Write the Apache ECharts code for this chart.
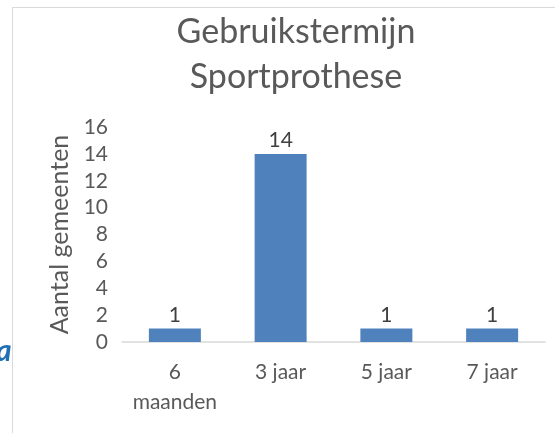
<!DOCTYPE html>
<html lang="nl">
  <head>
    <meta charset="UTF-8" />
    <title>Gebruikstermijn Sportprothese</title>
    <style>
      body {
        margin: 0;
        background: #fff;
      }
      #chart {
        width: 555px;
        height: 433px;
      }
    </style>
    <script src="https://cdn.jsdelivr.net/npm/echarts@6/dist/echarts.min.js"></script>
  </head>
  <body>
    <div id="chart"></div>
    <script>
      const categories = ["6\nmaanden", "3 jaar", "5 jaar", "7 jaar"];
      const counts = [1, 14, 1, 1];
      const yTicks = [0, 2, 4, 6, 8, 10, 12, 14, 16];

      const font = "Lato, 'Open Sans', sans-serif";
      const textColor = "#595959";

      const chart = echarts.init(document.getElementById("chart"));
      chart.setOption({
        animation: false,
        textStyle: { fontFamily: font },
        title: {
          text: "Gebruikstermijn\nSportprothese",
          left: 291,
          textAlign: "center",
          top: 5,
          textStyle: {
            fontFamily: font,
            fontSize: 34,
            fontWeight: "normal",
            color: textColor,
            lineHeight: 45,
          },
        },
        // kader + stukje achtergrond links
        graphic: [
          {
            type: "polyline",
            shape: { points: [[12.5, 433], [12.5, 7.5], [555, 7.5]] },
            style: { stroke: "#d9d9d9", lineWidth: 1, fill: null },
          },
          {
            type: "text",
            left: -4,
            top: 336,
            style: {
              text: "a",
              fontSize: 30,
              fontStyle: "italic",
              fontWeight: "bold",
              fill: "#1f6fb5",
              fontFamily: font,
            },
          },
        ],
        grid: { left: 122, right: 10, top: 127, bottom: 91 },
        xAxis: {
          type: "category",
          data: categories,
          axisTick: { show: false },
          axisLine: { lineStyle: { color: "#d9d9d9", width: 1.5 } },
          axisLabel: {
            interval: 0,
            color: textColor,
            fontSize: 21,
            lineHeight: 30,
            margin: 15,
            fontFamily: font,
          },
        },
        yAxis: {
          type: "value",
          min: yTicks[0],
          max: yTicks[yTicks.length - 1],
          interval: 2,
          name: "Aantal gemeenten",
          nameLocation: "middle",
          nameGap: 50,
          nameTextStyle: { color: textColor, fontSize: 25, fontFamily: font },
          splitLine: { show: false },
          axisLine: { show: false },
          axisLabel: {
            color: textColor,
            fontSize: 21,
            margin: 14,
            fontFamily: font,
          },
        },
        series: [
          {
            type: "bar",
            data: counts,
            barWidth: 52,
            itemStyle: { color: "#4f81bd" },
            label: {
              show: true,
              position: "top",
              distance: 3,
              color: "#404040",
              fontSize: 21,
              fontFamily: font,
            },
          },
        ],
      });
    </script>
  </body>
</html>
